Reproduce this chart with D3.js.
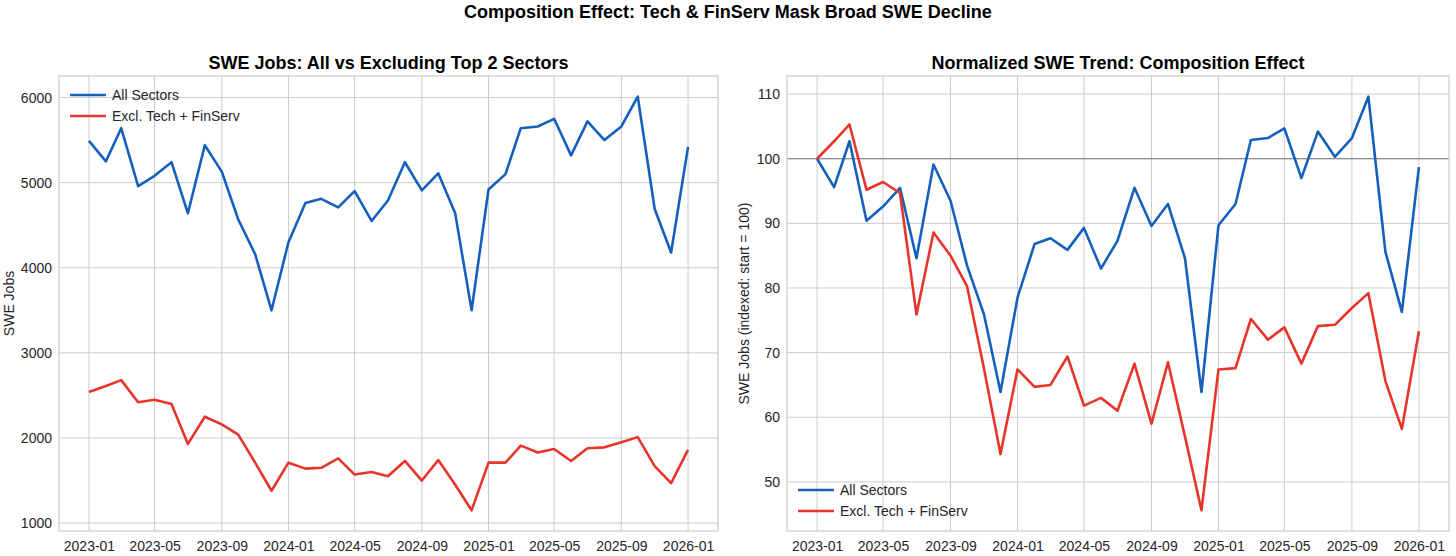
<!DOCTYPE html>
<html>
<head>
<meta charset="utf-8">
<script src="https://cdn.jsdelivr.net/npm/d3@7"></script>
<style>
  body { margin: 0; background: #fff; }
  svg { font-family: "Liberation Sans", Arial, sans-serif; }
</style>
</head>
<body>
<svg width="1456" height="556"></svg>
<script>
// monthly dates 2023-01 .. 2026-01
var months = ['2023-01','2023-02','2023-03','2023-04','2023-05','2023-06','2023-07','2023-08','2023-09','2023-10','2023-11','2023-12',
              '2024-01','2024-02','2024-03','2024-04','2024-05','2024-06','2024-07','2024-08','2024-09','2024-10','2024-11','2024-12',
              '2025-01','2025-02','2025-03','2025-04','2025-05','2025-06','2025-07','2025-08','2025-09','2025-10','2025-11','2025-12',
              '2026-01'];

var allSectors = [5490,5250,5640,4960,5080,5240,4640,5440,5130,4570,4160,3500,
                  4300,4760,4810,4710,4900,4550,4790,5240,4910,5110,4640,3500,
                  4920,5100,5640,5660,5750,5320,5720,5500,5660,6010,4690,4180,
                  5420];
var exclTech = [2540,2610,2680,2420,2450,2400,1930,2250,2160,2040,1710,1380,
                1710,1640,1650,1760,1570,1600,1550,1730,1500,1740,1450,1150,
                1710,1710,1910,1830,1870,1730,1880,1890,1950,2010,1670,1470,
                1860];

var allIdx = [100,95.6,102.7,90.4,92.6,95.5,84.6,99.1,93.5,83.5,75.9,63.9,
              78.5,86.8,87.7,85.9,89.3,83.0,87.3,95.5,89.6,93.0,84.6,63.9,
              89.7,93.0,102.9,103.2,104.7,97.0,104.2,100.3,103.2,109.6,85.6,76.3,
              98.7];
var exclIdx = [100,102.7,105.3,95.2,96.4,94.7,75.9,88.6,85.0,80.3,67.5,54.3,
               67.4,64.7,65.0,69.4,61.8,63.0,61.0,68.3,59.0,68.5,57.0,45.6,
               67.4,67.6,75.2,72.0,73.9,68.3,74.1,74.3,76.9,79.2,65.6,58.2,
               73.3];

var xTicks = ['2023-01','2023-05','2023-09','2024-01','2024-05','2024-09','2025-01','2025-05','2025-09','2026-01'];
var leftTicks = [1000,2000,3000,4000,5000,6000];
var rightTicks = [50,60,70,80,90,100,110];
var seriesNames = ['All Sectors','Excl. Tech + FinServ'];
var colors = ['#1560bd','#e8352b'];

var parse = d3.timeParse('%Y-%m');
var dates = months.map(parse);

var svg = d3.select('svg');
var textCol = '#262626', gridCol = '#cccccc';

svg.append('text').attr('x', 728).attr('y', 18).attr('text-anchor','middle')
   .attr('font-size', 18).attr('font-weight','bold').attr('fill','#000')
   .text('Composition Effect: Tech & FinServ Mask Broad SWE Decline');

function panel(opt) {
  var x0 = opt.left, x1 = opt.right, y0 = 76, y1 = 531;
  var t0 = dates[0], t1 = dates[dates.length-1];
  var pad = (t1 - t0) * 0.05;
  var x = d3.scaleTime().domain([new Date(+t0 - pad), new Date(+t1 + pad)]).range([x0, x1]);
  var lo = d3.min(opt.series, function (s) { return d3.min(s); });
  var hi = d3.max(opt.series, function (s) { return d3.max(s); });
  var m = (hi - lo) * 0.05;
  var y = d3.scaleLinear().domain([lo - m, hi + m]).range([y1, y0]);

  var g = svg.append('g');
  // grid
  g.selectAll('.vg').data(xTicks.map(parse)).enter().append('line')
   .attr('x1', function (d) { return x(d); }).attr('x2', function (d) { return x(d); })
   .attr('y1', y0).attr('y2', y1).attr('stroke', gridCol).attr('stroke-width', 1);
  g.selectAll('.hg').data(opt.yticks).enter().append('line')
   .attr('x1', x0).attr('x2', x1)
   .attr('y1', function (d) { return y(d); }).attr('y2', function (d) { return y(d); })
   .attr('stroke', gridCol).attr('stroke-width', 1);

  // axes via d3 axis, styled like matplotlib
  var xa = g.append('g').attr('transform', 'translate(0,' + y1 + ')')
    .call(d3.axisBottom(x).tickValues(xTicks.map(parse)).tickFormat(d3.timeFormat('%Y-%m')).tickSize(0).tickPadding(10));
  var ya = g.append('g').attr('transform', 'translate(' + x0 + ',0)')
    .call(d3.axisLeft(y).tickValues(opt.yticks).tickFormat(d3.format('d')).tickSize(0).tickPadding(7));
  [xa, ya].forEach(function (a) {
    a.select('.domain').remove();
    a.selectAll('text').attr('font-size', 14).attr('fill', textCol)
     .attr('font-family', '"Liberation Sans", Arial, sans-serif');
  });

  if (opt.refLine !== undefined) {
    g.append('line').attr('x1', x0).attr('x2', x1)
     .attr('y1', y(opt.refLine)).attr('y2', y(opt.refLine))
     .attr('stroke', '#7a7a7a').attr('stroke-width', 1);
  }

  var line = d3.line().x(function (d, i) { return x(dates[i]); }).y(function (d) { return y(d); });
  opt.series.forEach(function (s, k) {
    g.append('path').datum(s).attr('d', line).attr('fill', 'none')
     .attr('stroke', colors[k]).attr('stroke-width', 2.6).attr('stroke-linejoin', 'round');
  });

  // frame
  g.append('rect').attr('x', x0).attr('y', y0).attr('width', x1 - x0).attr('height', y1 - y0)
   .attr('fill', 'none').attr('stroke', gridCol).attr('stroke-width', 1.2);

  g.append('text').attr('x', (x0 + x1) / 2).attr('y', 69).attr('text-anchor', 'middle')
   .attr('font-size', 18).attr('font-weight', 'bold').attr('fill', '#000').text(opt.title);
  g.append('text').attr('transform', 'translate(' + opt.labelX + ',' + (y0 + y1) / 2 + ') rotate(-90)')
   .attr('text-anchor', 'middle').attr('font-size', 14).attr('fill', textCol).text(opt.ylabel);

  // legend
  var lg = g.append('g').selectAll('g').data(seriesNames).enter().append('g')
    .attr('transform', function (d, i) { return 'translate(' + (x0 + 11) + ',' + (opt.legendY + i * 21) + ')'; });
  lg.append('line').attr('x1', 0).attr('x2', 36).attr('stroke', function (d, i) { return colors[i]; })
    .attr('stroke-width', 2.6);
  lg.append('text').attr('x', 42).attr('y', 5).attr('font-size', 14).attr('fill', textCol)
    .text(function (d) { return d; });
}

panel({ left: 59, right: 718, series: [allSectors, exclTech], yticks: leftTicks,
        title: 'SWE Jobs: All vs Excluding Top 2 Sectors', ylabel: 'SWE Jobs', labelX: 14, legendY: 95 });
panel({ left: 787, right: 1449, series: [allIdx, exclIdx], yticks: rightTicks, refLine: 100,
        title: 'Normalized SWE Trend: Composition Effect', ylabel: 'SWE Jobs (indexed: start = 100)', labelX: 749, legendY: 490 });
</script>
</body>
</html>
